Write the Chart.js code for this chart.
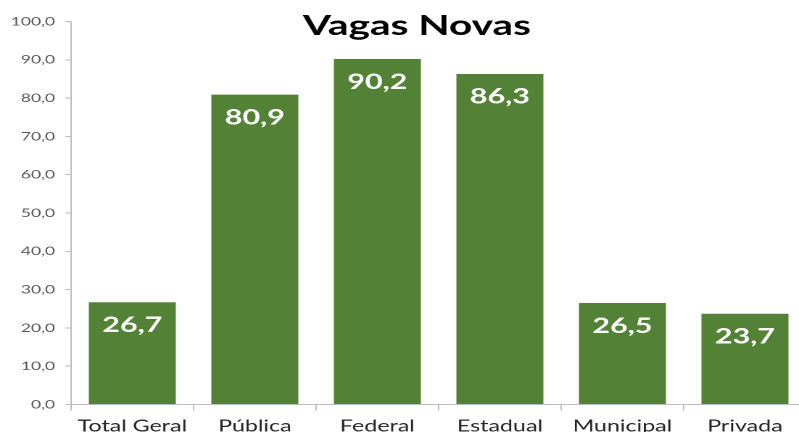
<!DOCTYPE html>
<html>
<head>
<meta charset="utf-8">
<script src="https://cdn.jsdelivr.net/npm/chart.js@4"></script>
<style>
  html, body { margin: 0; padding: 0; background: #fff; overflow: hidden; }
  /* the original picture is stretched sideways, so we draw narrow and stretch */
  #wrap { width: 557px; height: 432px; transform: scaleX(1.45); transform-origin: 0 0; }
</style>
</head>
<body>
<div id="wrap"><canvas id="chart" width="557" height="432"></canvas></div>
<script>
  const categories = ['Total Geral', 'Pública', 'Federal', 'Estadual', 'Municipal', 'Privada'];
  const values = [26.7, 80.9, 90.2, 86.3, 26.5, 23.7];
  const yTicks = [0, 10, 20, 30, 40, 50, 60, 70, 80, 90, 100];
  const title = 'Vagas Novas';

  const fmt = v => v.toFixed(1).replace('.', ',');

  // title + white value labels inside the bar tops
  const labelsPlugin = {
    id: 'labels',
    afterDatasetsDraw(chart) {
      const ctx = chart.ctx;
      ctx.save();
      ctx.fillStyle = '#000';
      ctx.font = 'bold 28px Lato';
      ctx.textAlign = 'center';
      ctx.textBaseline = 'middle';
      ctx.fillText(title, 287.5, 26);

      ctx.fillStyle = '#fff';
      ctx.font = 'bold 21px Lato';
      chart.getDatasetMeta(0).data.forEach((bar, i) => {
        ctx.fillText(fmt(values[i]), bar.x, bar.y + 23);
      });
      ctx.restore();
    }
  };

  new Chart(document.getElementById('chart'), {
    type: 'bar',
    data: {
      labels: categories,
      datasets: [{
        data: values,
        backgroundColor: '#538135',
        borderWidth: 0,
        categoryPercentage: 1,
        barPercentage: 0.71
      }]
    },
    options: {
      responsive: false,
      animation: false,
      devicePixelRatio: 2,
      layout: { padding: { top: 21.5, right: 1, left: 0, bottom: 0 } },
      plugins: { legend: { display: false }, tooltip: { enabled: false } },
      scales: {
        x: {
          offset: true,
          grid: { display: true, drawOnChartArea: false, offset: true, tickLength: 6, color: '#bfbfbf' },
          border: { color: '#bfbfbf' },
          ticks: { color: '#262626', font: { family: 'Lato', size: 16 }, padding: 6, maxRotation: 0, autoSkip: false },
          afterFit: s => { s.height = 27.5; }
        },
        y: {
          min: 0, max: 100,
          afterBuildTicks: s => { s.ticks = yTicks.map(v => ({ value: v })); },
          grid: { display: true, drawOnChartArea: false, tickLength: 4, color: '#bfbfbf' },
          border: { color: '#bfbfbf' },
          ticks: { color: '#595959', font: { family: 'Lato', size: 12 }, padding: 7, callback: v => fmt(v) },
          afterFit: s => { s.width = 49; }
        }
      }
    },
    plugins: [labelsPlugin]
  });
</script>
</body>
</html>
